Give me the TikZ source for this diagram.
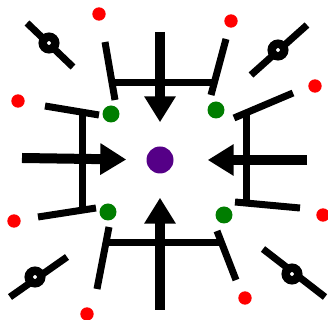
\documentclass[tikz,border=0pt]{standalone}
\usetikzlibrary{arrows.meta}
\definecolor{core}{RGB}{85,0,135}
\definecolor{site}{RGB}{0,125,0}
\definecolor{ion}{RGB}{255,0,0}
\begin{document}
\begin{tikzpicture}[
    x=0.3mm, y=-0.3mm,
    bar/.style={line width=2.1mm},
    push/.style={line width=3mm, -{Triangle[length=7.8mm,width=9mm]}},
    dot/.style={circle, inner sep=0pt},
    ring/.style={circle, draw, fill=white, line width=2.55mm, minimum size=3.75mm, inner sep=0pt}
]
  \useasboundingbox (0,0) rectangle (328,320);

  % nodes
  \node[dot, fill=core, minimum size=8.1mm] (c) at (160,160) {};
  \node[dot, fill=site, minimum size=5.1mm] (gNW) at (111,114) {};
  \node[dot, fill=site, minimum size=5.1mm] (gNE) at (216,110) {};
  \node[dot, fill=site, minimum size=5.1mm] (gSW) at (108,212) {};
  \node[dot, fill=site, minimum size=5.1mm] (gSE) at (224,215) {};
  \node[dot, fill=ion, minimum size=4mm] (r1) at (99,14) {};
  \node[dot, fill=ion, minimum size=4mm] (r2) at (231,21) {};
  \node[dot, fill=ion, minimum size=4mm] (r3) at (18,101) {};
  \node[dot, fill=ion, minimum size=4mm] (r4) at (315,86) {};
  \node[dot, fill=ion, minimum size=4mm] (r5) at (14,221) {};
  \node[dot, fill=ion, minimum size=4mm] (r6) at (323,215) {};
  \node[dot, fill=ion, minimum size=4mm] (r7) at (87,314) {};
  \node[dot, fill=ion, minimum size=4mm] (r8) at (245,298) {};

  % arrow tails
  \coordinate (aN) at (160,32);
  \coordinate (aS) at (160,310);
  \coordinate (aW) at (22,158);
  \coordinate (aE) at (307,160);

  % brackets
  \draw[bar] (105,42) -- (115,100);
  \draw[bar] (226,39) -- (211,95);
  \draw[bar] (112,83) -- (214,83);
  \draw[bar] (45,106) -- (99,115);
  \draw[bar] (38,217) -- (96,208);
  \draw[bar] (82,111) -- (82,211);
  \draw[bar] (234,118) -- (293,93);
  \draw[bar] (235,202) -- (300,208);
  \draw[bar] (246,113) -- (246,203);
  \draw[bar] (109,227) -- (97,289);
  \draw[bar] (217,231) -- (236,280);
  \draw[bar] (106,243) -- (222,243);

  % arrows
  \draw[push, shorten >=7.2mm] (aN) -- (c);
  \draw[push, shorten >=7.2mm] (aS) -- (c);
  \draw[push, shorten >=6mm] (aW) -- (c);
  \draw[push, shorten >=10.2mm] (aE) -- (c);

  % rods
  \draw[bar] (27,23) -- (73,67);
  \draw[bar] (251,75) -- (307,25);
  \draw[bar] (10,297) -- (67,257);
  \draw[bar] (263,249) -- (325,297);
  \node[ring] (bNW) at (49,43) {};
  \node[ring] (bNE) at (278,50) {};
  \node[ring] (bSW) at (35,277) {};
  \node[ring] (bSE) at (292,274) {};
\end{tikzpicture}
\end{document}
